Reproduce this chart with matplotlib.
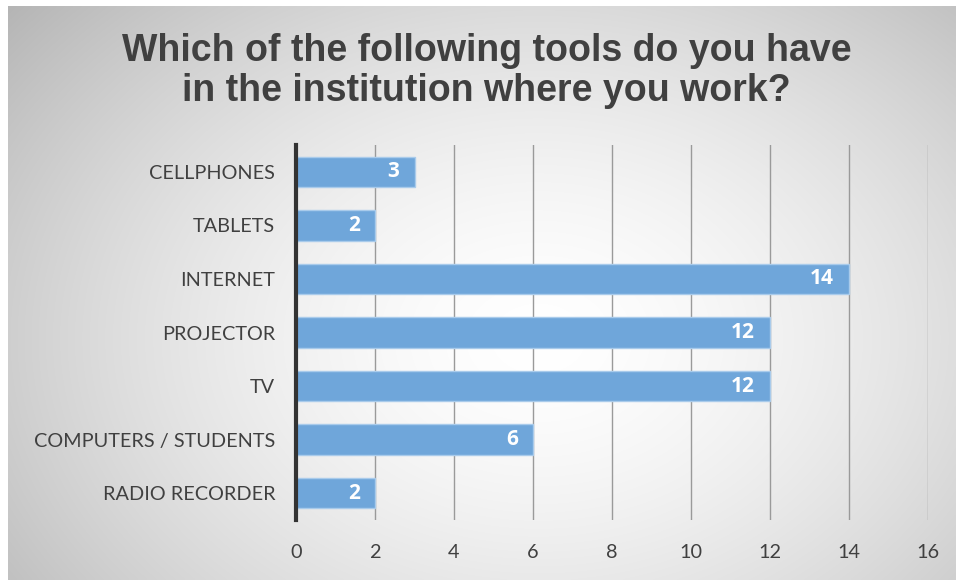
import numpy as np
import matplotlib
matplotlib.use('Agg')
import matplotlib.pyplot as plt

# survey answers, top to bottom
tools = ['CELLPHONES', 'TABLETS', 'INTERNET', 'PROJECTOR', 'TV',
         'COMPUTERS / STUDENTS', 'RADIO RECORDER']
counts = [3, 2, 14, 12, 12, 6, 2]
x_ticks = [0, 2, 4, 6, 8, 10, 12, 14, 16]
title = 'Which of the following tools do you have\nin the institution where you work?'

fig = plt.figure(figsize=(9.58, 5.8), dpi=100)
fig.patch.set_facecolor('white')

# radial grey-to-white backdrop behind the chart
bg = fig.add_axes([8 / 958, 0, 1 - 10 / 958, 1 - 6 / 580])
bg.set_axis_off()
xx, yy = np.meshgrid(np.linspace(0, 1, 400), np.linspace(0, 1, 300))
r = np.sqrt(((xx - 0.56) / 0.65) ** 2 + ((yy - 0.42) / 0.8) ** 2)
shade = 1 - 0.24 * np.clip(r, 0, 1.3) ** 1.6
bg.imshow(np.dstack([shade] * 3), extent=[0, 1, 0, 1], origin='lower',
          aspect='auto', interpolation='bilinear')
bg.set_xlim(0, 1)
bg.set_ylim(0, 1)

fig.text(0.508, 0.877, title, ha='center', va='center', fontsize=27,
         fontweight='bold', color='#404040', family='Liberation Sans',
         linespacing=1.15)

ax = fig.add_axes([296 / 958, 1 - 520 / 580, 632 / 958, 375 / 580])
ax.patch.set_alpha(0)

ypos = np.arange(len(tools))
ax.barh(ypos, counts, height=0.57, color='#6fa6da', edgecolor='#a9cbeb',
        linewidth=1, zorder=3)
for y, v in zip(ypos, counts):
    ax.text(v - 0.38, y, str(v), ha='right', va='center', color='white',
            fontsize=15, fontweight='bold', family='Open Sans', zorder=4)

ax.set_xlim(0, 16)
ax.set_ylim(len(tools) - 0.5, -0.5)
ax.set_xticks(x_ticks)
ax.set_yticks(ypos)
ax.set_yticklabels(tools)
ax.xaxis.grid(True, color='#9a9a9a', linewidth=1, zorder=1)
ax.tick_params(length=0, labelsize=14.3, colors='#404040')
ax.tick_params(axis='x', pad=17)
ax.tick_params(axis='y', pad=15)
for lbl in ax.get_xticklabels() + ax.get_yticklabels():
    lbl.set_family('Lato')
for side in ['top', 'right', 'bottom']:
    ax.spines[side].set_visible(False)
ax.spines['left'].set_color('#333333')
ax.spines['left'].set_linewidth(3)
ax.spines['left'].set_zorder(5)

fig.savefig('out.png', dpi=100)
